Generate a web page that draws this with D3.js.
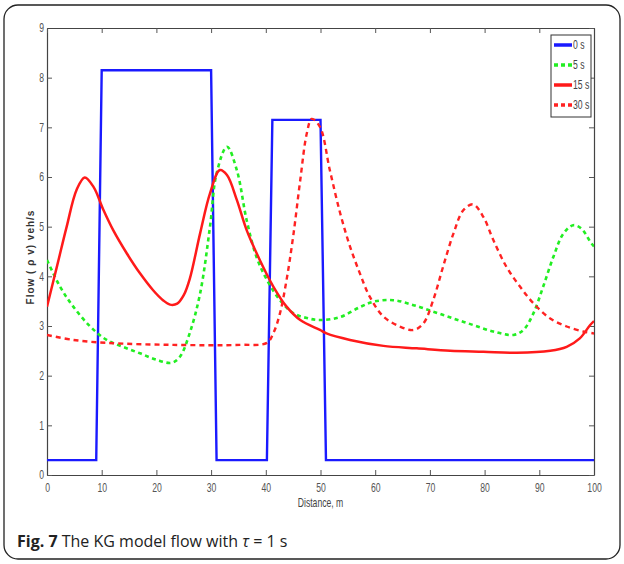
<!DOCTYPE html>
<html><head><meta charset="utf-8">
<script src="https://cdn.jsdelivr.net/npm/d3@7"></script>
<style>
html,body{margin:0;padding:0;background:#fff;}
svg{display:block;}
.cond{transform-box:fill-box;transform-origin:center;transform:scaleX(0.72);}
</style></head>
<body><svg id="c" width="624" height="564"></svg>
<script>
const xTicks = [0,10,20,30,40,50,60,70,80,90,100];
const yTicks = [0,1,2,3,4,5,6,7,8,9];
const seriesNames = ["0 s","5 s","15 s","30 s"];

const blueX = [0,9,10,30,31,40.2,41.2,50,51,100];
const blueY = [0.3,0.3,8.15,8.15,0.3,0.3,7.15,7.15,0.3,0.3];

const greenX = [0,2.4,4.8,7.9,10.9,13.9,17,20,22.8,24.3,26.1,28,29.8,31,32.9,34.7,36.5,38.3,40.2,42.6,45,47.5,49.9,53.6,57.2,59.7,63.3,67,70.6,74.3,77.9,81.6,85.3,87.1,88.9,90.7,92.6,94.4,96.2,97.7,99.3,100];
const greenY = [4.33,3.79,3.39,2.99,2.72,2.58,2.45,2.32,2.26,2.38,2.86,3.66,5.0,6.07,6.61,6.14,5.13,4.39,3.93,3.52,3.26,3.16,3.12,3.18,3.38,3.49,3.52,3.42,3.29,3.15,3.02,2.89,2.82,2.92,3.25,3.79,4.40,4.86,5.03,4.96,4.70,4.6];

const redX = [0,1.8,3.6,5.4,6.9,8.5,10.3,12.1,14.6,17,19.4,21.2,22.5,23.8,25,26.1,28,29.8,31.6,32.9,34.7,36.5,38.9,41.4,43.8,46.3,49.9,51.1,55.4,61.5,67.6,73.7,79.8,85.9,92,95,97.4,99.3,100];
const redY = [3.39,4.19,5.0,5.74,5.99,5.80,5.34,4.93,4.46,4.06,3.72,3.52,3.43,3.45,3.62,3.95,4.87,5.67,6.14,6.04,5.54,4.93,4.33,3.79,3.39,3.12,2.92,2.85,2.72,2.60,2.55,2.50,2.48,2.46,2.50,2.58,2.75,3.02,3.1];

const red30X = [0,4.8,10.9,23.1,35.3,40.2,41.4,42.6,43.8,45,46.3,47.5,48.4,49.9,51.7,53.6,55.4,57.2,59,61.5,64.5,67,68.8,70.6,72.4,74.3,76.1,77.9,79.8,81.6,84,86.5,88.9,92,95,98,100];
const red30Y = [2.82,2.72,2.66,2.62,2.62,2.66,2.86,3.26,3.93,4.80,5.94,6.88,7.17,7.01,6.14,5.27,4.6,4.06,3.59,3.19,2.99,2.92,3.05,3.52,4.19,4.86,5.33,5.45,5.19,4.73,4.19,3.79,3.46,3.15,2.99,2.89,2.85];

const svg = d3.select("#c");
const L=47, R=594, T=28, B=475;
const x = d3.scaleLinear().domain([0,100]).range([L,R]);
const y = d3.scaleLinear().domain([0,9]).range([B,T]);

// outer frame
svg.append("rect").attr("x",4).attr("y",5).attr("width",616).attr("height",554)
  .attr("rx",14).attr("fill","#fff").attr("stroke","#222").attr("stroke-width",1.3);

const g = svg.append("g");
g.append("defs").append("clipPath").attr("id","clip").append("rect")
  .attr("x",L).attr("y",T).attr("width",R-L).attr("height",B-T);

const tickFont = "'Liberation Sans', Arial, sans-serif";
// axes (ticks inside)
const axB = g.append("g").attr("transform",`translate(0,${B})`)
  .call(d3.axisBottom(x).tickValues(xTicks).tickSizeInner(-5).tickSizeOuter(0).tickPadding(8));
const axL = g.append("g").attr("transform",`translate(${L},0)`)
  .call(d3.axisLeft(y).tickValues(yTicks).tickSizeInner(-5).tickSizeOuter(0).tickPadding(2));
const axT = g.append("g").attr("transform",`translate(0,${T})`)
  .call(d3.axisTop(x).tickValues(xTicks).tickSizeInner(-5).tickSizeOuter(0).tickFormat(""));
const axR = g.append("g").attr("transform",`translate(${R},0)`)
  .call(d3.axisRight(y).tickValues(yTicks).tickSizeInner(-5).tickSizeOuter(0).tickFormat(""));
[axB,axL,axT,axR].forEach(a=>{
  a.select(".domain").attr("stroke","#444").attr("stroke-width",1.2);
  a.selectAll(".tick line").attr("stroke","#555").attr("stroke-width",1);
  a.selectAll(".tick text").attr("fill","#555").attr("font-family",tickFont).attr("font-size",12).attr("class","cond");
});

// lines
const mk = (xs,ys)=>xs.map((v,i)=>[v,ys[i]]);
const lineLin = d3.line().x(d=>x(d[0])).y(d=>y(d[1]));
const lineSm = d3.line().x(d=>x(d[0])).y(d=>y(d[1])).curve(d3.curveCatmullRom.alpha(0.5));
const plot = g.append("g").attr("clip-path","url(#clip)");
plot.append("path").attr("d",lineLin(mk(blueX,blueY))).attr("fill","none").attr("stroke","#1a1aff").attr("stroke-width",2.4);
plot.append("path").attr("d",lineSm(mk(greenX,greenY))).attr("fill","none").attr("stroke","#22ee22").attr("stroke-width",2.6).attr("stroke-dasharray","4,3.5");
plot.append("path").attr("d",lineSm(mk(redX,redY))).attr("fill","none").attr("stroke","#ff1a1a").attr("stroke-width",2.5);
plot.append("path").attr("d",lineSm(mk(red30X,red30Y))).attr("fill","none").attr("stroke","#ff2222").attr("stroke-width",2.4).attr("stroke-dasharray","5,4");

// legend
const styles = [
  {c:"#1a1aff",w:3.5,d:null},
  {c:"#22ee22",w:3.5,d:"4,3"},
  {c:"#ff1a1a",w:3.5,d:null},
  {c:"#ff2222",w:3.5,d:"4,3"}
];
const lg = g.append("g");
lg.append("rect").attr("x",551).attr("y",35).attr("width",40).attr("height",82)
  .attr("fill","#fff").attr("stroke","#333").attr("stroke-width",1);
const ly = d3.scalePoint().domain(seriesNames).range([45,105]);
seriesNames.forEach((n,i)=>{
  lg.append("line").attr("x1",554).attr("x2",572).attr("y1",ly(n)).attr("y2",ly(n))
    .attr("stroke",styles[i].c).attr("stroke-width",styles[i].w).attr("stroke-dasharray",styles[i].d);
  lg.append("text").attr("x",573).attr("y",ly(n)+4).attr("font-size",12).attr("font-family",tickFont)
    .attr("fill","#444").attr("class","cond").style("transform-origin","left center").text(n);
});

// axis labels
g.append("text").attr("x",(L+R)/2).attr("y",507).attr("text-anchor","middle")
  .attr("font-family",tickFont).attr("font-size",12).attr("fill","#444").attr("class","cond").text("Distance, m");
g.append("text").attr("transform","translate(34,257) rotate(-90)").attr("text-anchor","middle")
  .attr("font-family",tickFont).attr("font-size",10).attr("font-weight","bold").attr("letter-spacing",1)
  .attr("fill","#333").text("Flow ( ρ v) veh/s");

// caption
const cap = svg.append("text").attr("x",17).attr("y",547).attr("font-family","'Open Sans', sans-serif")
  .attr("font-size",16).attr("fill","#222");
cap.append("tspan").attr("font-weight","bold").text("Fig. 7");
cap.append("tspan").text(" The KG model flow with ");
cap.append("tspan").attr("font-style","italic").text("τ");
cap.append("tspan").text(" = 1 s");
</script></body></html>
